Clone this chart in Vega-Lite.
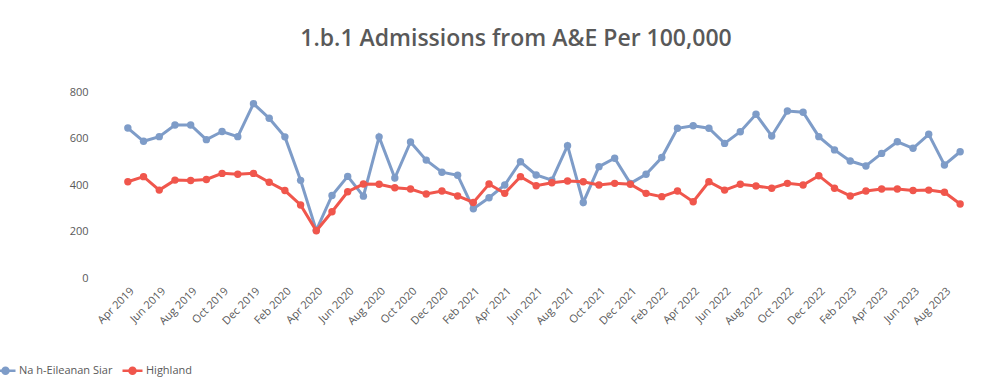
{
  "$schema": "https://vega.github.io/schema/vega-lite/v6.json",
  "autosize": "none",
  "width": 848,
  "height": 186,
  "padding": {"left": 120, "top": 92, "right": 40, "bottom": 112},
  "background": "white",
  "config": {
    "view": {"stroke": null},
    "font": "Open Sans"
  },
  "title": {
    "text": "1.b.1 Admissions from A&E Per 100,000",
    "font": "Open Sans",
    "fontSize": 23,
    "fontWeight": 600,
    "color": "#595959",
    "anchor": "middle",
    "dx": -28,
    "offset": 35
  },
  "data": {
    "values": [
      {"month": "Apr 2019", "series": "Na h-Eileanan Siar", "value": 645},
      {"month": "May 2019", "series": "Na h-Eileanan Siar", "value": 588},
      {"month": "Jun 2019", "series": "Na h-Eileanan Siar", "value": 608},
      {"month": "Jul 2019", "series": "Na h-Eileanan Siar", "value": 658},
      {"month": "Aug 2019", "series": "Na h-Eileanan Siar", "value": 658},
      {"month": "Sep 2019", "series": "Na h-Eileanan Siar", "value": 595},
      {"month": "Oct 2019", "series": "Na h-Eileanan Siar", "value": 630},
      {"month": "Nov 2019", "series": "Na h-Eileanan Siar", "value": 608},
      {"month": "Dec 2019", "series": "Na h-Eileanan Siar", "value": 750},
      {"month": "Jan 2020", "series": "Na h-Eileanan Siar", "value": 687},
      {"month": "Feb 2020", "series": "Na h-Eileanan Siar", "value": 607},
      {"month": "Mar 2020", "series": "Na h-Eileanan Siar", "value": 420},
      {"month": "Apr 2020", "series": "Na h-Eileanan Siar", "value": 205},
      {"month": "May 2020", "series": "Na h-Eileanan Siar", "value": 355},
      {"month": "Jun 2020", "series": "Na h-Eileanan Siar", "value": 437},
      {"month": "Jul 2020", "series": "Na h-Eileanan Siar", "value": 352},
      {"month": "Aug 2020", "series": "Na h-Eileanan Siar", "value": 607},
      {"month": "Sep 2020", "series": "Na h-Eileanan Siar", "value": 430},
      {"month": "Oct 2020", "series": "Na h-Eileanan Siar", "value": 585},
      {"month": "Nov 2020", "series": "Na h-Eileanan Siar", "value": 507},
      {"month": "Dec 2020", "series": "Na h-Eileanan Siar", "value": 455},
      {"month": "Jan 2021", "series": "Na h-Eileanan Siar", "value": 442},
      {"month": "Feb 2021", "series": "Na h-Eileanan Siar", "value": 298},
      {"month": "Mar 2021", "series": "Na h-Eileanan Siar", "value": 345},
      {"month": "Apr 2021", "series": "Na h-Eileanan Siar", "value": 400},
      {"month": "May 2021", "series": "Na h-Eileanan Siar", "value": 500},
      {"month": "Jun 2021", "series": "Na h-Eileanan Siar", "value": 443},
      {"month": "Jul 2021", "series": "Na h-Eileanan Siar", "value": 421},
      {"month": "Aug 2021", "series": "Na h-Eileanan Siar", "value": 569},
      {"month": "Sep 2021", "series": "Na h-Eileanan Siar", "value": 325},
      {"month": "Oct 2021", "series": "Na h-Eileanan Siar", "value": 479},
      {"month": "Nov 2021", "series": "Na h-Eileanan Siar", "value": 515},
      {"month": "Dec 2021", "series": "Na h-Eileanan Siar", "value": 407},
      {"month": "Jan 2022", "series": "Na h-Eileanan Siar", "value": 446},
      {"month": "Feb 2022", "series": "Na h-Eileanan Siar", "value": 518},
      {"month": "Mar 2022", "series": "Na h-Eileanan Siar", "value": 644},
      {"month": "Apr 2022", "series": "Na h-Eileanan Siar", "value": 655},
      {"month": "May 2022", "series": "Na h-Eileanan Siar", "value": 644},
      {"month": "Jun 2022", "series": "Na h-Eileanan Siar", "value": 579},
      {"month": "Jul 2022", "series": "Na h-Eileanan Siar", "value": 629},
      {"month": "Aug 2022", "series": "Na h-Eileanan Siar", "value": 704},
      {"month": "Sep 2022", "series": "Na h-Eileanan Siar", "value": 611},
      {"month": "Oct 2022", "series": "Na h-Eileanan Siar", "value": 718},
      {"month": "Nov 2022", "series": "Na h-Eileanan Siar", "value": 713},
      {"month": "Dec 2022", "series": "Na h-Eileanan Siar", "value": 608},
      {"month": "Jan 2023", "series": "Na h-Eileanan Siar", "value": 551},
      {"month": "Feb 2023", "series": "Na h-Eileanan Siar", "value": 503},
      {"month": "Mar 2023", "series": "Na h-Eileanan Siar", "value": 482},
      {"month": "Apr 2023", "series": "Na h-Eileanan Siar", "value": 536},
      {"month": "May 2023", "series": "Na h-Eileanan Siar", "value": 586},
      {"month": "Jun 2023", "series": "Na h-Eileanan Siar", "value": 558},
      {"month": "Jul 2023", "series": "Na h-Eileanan Siar", "value": 618},
      {"month": "Aug 2023", "series": "Na h-Eileanan Siar", "value": 486},
      {"month": "Sep 2023", "series": "Na h-Eileanan Siar", "value": 543},
      {"month": "Apr 2019", "series": "Highland", "value": 414},
      {"month": "May 2019", "series": "Highland", "value": 436},
      {"month": "Jun 2019", "series": "Highland", "value": 378},
      {"month": "Jul 2019", "series": "Highland", "value": 421},
      {"month": "Aug 2019", "series": "Highland", "value": 419},
      {"month": "Sep 2019", "series": "Highland", "value": 424},
      {"month": "Oct 2019", "series": "Highland", "value": 450},
      {"month": "Nov 2019", "series": "Highland", "value": 446},
      {"month": "Dec 2019", "series": "Highland", "value": 450},
      {"month": "Jan 2020", "series": "Highland", "value": 412},
      {"month": "Feb 2020", "series": "Highland", "value": 376},
      {"month": "Mar 2020", "series": "Highland", "value": 314},
      {"month": "Apr 2020", "series": "Highland", "value": 203},
      {"month": "May 2020", "series": "Highland", "value": 285},
      {"month": "Jun 2020", "series": "Highland", "value": 371},
      {"month": "Jul 2020", "series": "Highland", "value": 404},
      {"month": "Aug 2020", "series": "Highland", "value": 403},
      {"month": "Sep 2020", "series": "Highland", "value": 388},
      {"month": "Oct 2020", "series": "Highland", "value": 383},
      {"month": "Nov 2020", "series": "Highland", "value": 361},
      {"month": "Dec 2020", "series": "Highland", "value": 374},
      {"month": "Jan 2021", "series": "Highland", "value": 353},
      {"month": "Feb 2021", "series": "Highland", "value": 325},
      {"month": "Mar 2021", "series": "Highland", "value": 404},
      {"month": "Apr 2021", "series": "Highland", "value": 364},
      {"month": "May 2021", "series": "Highland", "value": 436},
      {"month": "Jun 2021", "series": "Highland", "value": 397},
      {"month": "Jul 2021", "series": "Highland", "value": 410},
      {"month": "Aug 2021", "series": "Highland", "value": 417},
      {"month": "Sep 2021", "series": "Highland", "value": 414},
      {"month": "Oct 2021", "series": "Highland", "value": 400},
      {"month": "Nov 2021", "series": "Highland", "value": 407},
      {"month": "Dec 2021", "series": "Highland", "value": 403},
      {"month": "Jan 2022", "series": "Highland", "value": 364},
      {"month": "Feb 2022", "series": "Highland", "value": 350},
      {"month": "Mar 2022", "series": "Highland", "value": 374},
      {"month": "Apr 2022", "series": "Highland", "value": 328},
      {"month": "May 2022", "series": "Highland", "value": 414},
      {"month": "Jun 2022", "series": "Highland", "value": 378},
      {"month": "Jul 2022", "series": "Highland", "value": 403},
      {"month": "Aug 2022", "series": "Highland", "value": 396},
      {"month": "Sep 2022", "series": "Highland", "value": 386},
      {"month": "Oct 2022", "series": "Highland", "value": 407},
      {"month": "Nov 2022", "series": "Highland", "value": 400},
      {"month": "Dec 2022", "series": "Highland", "value": 440},
      {"month": "Jan 2023", "series": "Highland", "value": 386},
      {"month": "Feb 2023", "series": "Highland", "value": 353},
      {"month": "Mar 2023", "series": "Highland", "value": 374},
      {"month": "Apr 2023", "series": "Highland", "value": 383},
      {"month": "May 2023", "series": "Highland", "value": 383},
      {"month": "Jun 2023", "series": "Highland", "value": 376},
      {"month": "Jul 2023", "series": "Highland", "value": 378},
      {"month": "Aug 2023", "series": "Highland", "value": 369},
      {"month": "Sep 2023", "series": "Highland", "value": 318}
    ]
  },
  "encoding": {
    "x": {
      "field": "month",
      "type": "ordinal",
      "sort": null,
      "scale": {"type": "point", "padding": 0.5},
      "axis": {
        "title": null,
        "values": ["Apr 2019", "Jun 2019", "Aug 2019", "Oct 2019", "Dec 2019", "Feb 2020", "Apr 2020", "Jun 2020", "Aug 2020", "Oct 2020", "Dec 2020", "Feb 2021", "Apr 2021", "Jun 2021", "Aug 2021", "Oct 2021", "Dec 2021", "Feb 2022", "Apr 2022", "Jun 2022", "Aug 2022", "Oct 2022", "Dec 2022", "Feb 2023", "Apr 2023", "Jun 2023", "Aug 2023"],
        "labelAngle": -45,
        "labelFontSize": 11,
        "labelColor": "#595959",
        "labelFont": "Open Sans",
        "domain": false,
        "ticks": false,
        "grid": false,
        "labelPadding": 7,
        "labelOverlap": false
      }
    },
    "y": {
      "field": "value",
      "type": "quantitative",
      "scale": {"domain": [0, 800]},
      "axis": {
        "title": null,
        "values": [0, 200, 400, 600, 800],
        "labelFontSize": 11,
        "labelColor": "#595959",
        "labelFont": "Open Sans",
        "domain": false,
        "ticks": false,
        "grid": false,
        "labelPadding": 32
      }
    },
    "color": {
      "field": "series",
      "type": "nominal",
      "scale": {"domain": ["Na h-Eileanan Siar", "Highland"], "range": ["#7e9cc8", "#f0564c"]},
      "legend": {
        "title": null,
        "orient": "none",
        "direction": "horizontal",
        "legendX": -126,
        "legendY": 267,
        "labelFontSize": 11,
        "labelColor": "#595959",
        "labelFont": "Open Sans",
        "symbolType": "M-1,0L1,0M-0.3,0A0.3,0.3 0 1,1 0.3,0A0.3,0.3 0 1,1 -0.3,0Z",
        "symbolSize": 400,
        "symbolStrokeWidth": 2.5,
        "labelOffset": 2,
        "columnPadding": 4,
        "encode": {"symbols": {"update": {"fill": {"scale": "color", "field": "value"}}}}
      }
    }
  },
  "layer": [
    {
      "transform": [{"filter": "datum.series === 'Na h-Eileanan Siar'"}],
      "mark": {"type": "line", "strokeWidth": 3, "point": {"filled": true, "size": 55, "opacity": 1}}
    },
    {
      "transform": [{"filter": "datum.series === 'Highland'"}],
      "mark": {"type": "line", "strokeWidth": 3, "point": {"filled": true, "size": 55, "opacity": 1}}
    }
  ]
}
